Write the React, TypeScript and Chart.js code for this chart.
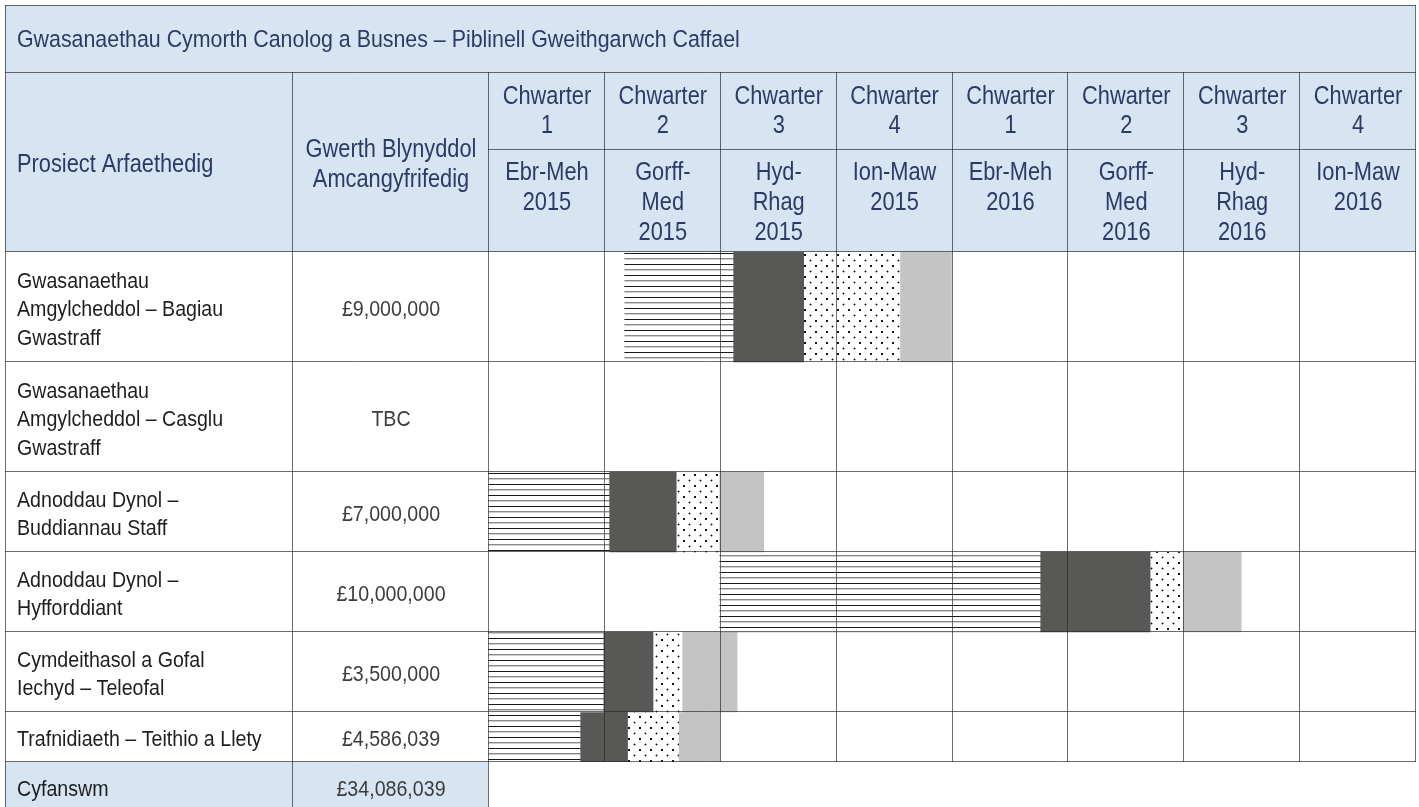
import React, { useEffect, useRef } from 'react';
import { Chart, registerables } from 'chart.js';

Chart.register(...registerables);

// ---------- data ----------
const title = 'Gwasanaethau Cymorth Canolog a Busnes – Piblinell Gweithgarwch Caffael';
const headerProject = ['Prosiect Arfaethedig'];
const headerValue = ['Gwerth Blynyddol', 'Amcangyfrifedig'];
const quarterLabels = [
  ['Chwarter', '1'], ['Chwarter', '2'], ['Chwarter', '3'], ['Chwarter', '4'],
  ['Chwarter', '1'], ['Chwarter', '2'], ['Chwarter', '3'], ['Chwarter', '4'],
];
const periodLabels = [
  ['Ebr-Meh', '2015'], ['Gorff-', 'Med', '2015'], ['Hyd-', 'Rhag', '2015'], ['Ion-Maw', '2015'],
  ['Ebr-Meh', '2016'], ['Gorff-', 'Med', '2016'], ['Hyd-', 'Rhag', '2016'], ['Ion-Maw', '2016'],
];
const projects = [
  ['Gwasanaethau', 'Amgylcheddol – Bagiau', 'Gwastraff'],
  ['Gwasanaethau', 'Amgylcheddol – Casglu', 'Gwastraff'],
  ['Adnoddau Dynol –', 'Buddiannau Staff'],
  ['Adnoddau Dynol –', 'Hyfforddiant'],
  ['Cymdeithasol a Gofal', 'Iechyd – Teleofal'],
  ['Trafnidiaeth – Teithio a Llety'],
];
const annualValues = ['£9,000,000', 'TBC', '£7,000,000', '£10,000,000', '£3,500,000', '£4,586,039'];
const totalLabel = 'Cyfanswm';
const totalValue = '£34,086,039';

// phase spans, in quarters counted from the start of Chwarter 1 2015
const stripedPhase = [[1.18, 2.12], null, [0, 1.05], [2.0, 4.77], [0, 1.0], [0, 0.8]];
const darkPhase = [[2.12, 2.73], null, [1.05, 1.63], [4.77, 5.72], [1.0, 1.43], [0.8, 1.21]];
const dottedPhase = [[2.73, 3.56], null, [1.63, 2.0], [5.72, 6.0], [1.43, 1.68], [1.21, 1.65]];
const lightPhase = [[3.56, 4.0], null, [2.0, 2.38], [6.0, 6.5], [1.68, 2.15], [1.65, 2.0]];

// ---------- layout / style ----------
const W = 1419;
const H = 807;
const X_LEFT = 5;
const X_COL1 = 292;
const X_COL2 = 488;
const X_RIGHT = 1415;
const Y_TOP = 5;
const Y_TITLE_BOTTOM = 72;
const Y_HEAD_MID = 149;
const Y_DATA_TOP = 252;
const LINE_PX = 30;
const ROW_PAD = 20;
const HEAD_BG = '#d7e4f1';
const NAVY = '#2c3b66';
const LABEL_COL = '#1e1e1e';
const VALUE_COL = '#3c3c3c';
const GRID = 'rgba(40,40,40,0.68)';

function makeStripes(): CanvasPattern {
  const c = document.createElement('canvas');
  c.width = 8;
  c.height = 11;
  const g = c.getContext('2d')!;
  g.fillStyle = '#ffffff';
  g.fillRect(0, 0, 8, 11);
  g.fillStyle = '#1a1a1a';
  g.fillRect(0, 0, 8, 1);
  g.fillStyle = '#8a8a8a';
  g.fillRect(0, 5, 8, 1);
  g.fillStyle = '#cfcfcf';
  g.fillRect(0, 6, 8, 1);
  return g.createPattern(c, 'repeat')!;
}

function makeDots(): CanvasPattern {
  const c = document.createElement('canvas');
  c.width = 11;
  c.height = 11;
  const g = c.getContext('2d')!;
  g.fillStyle = '#ffffff';
  g.fillRect(0, 0, 11, 11);
  g.fillStyle = '#151515';
  g.fillRect(1, 1, 2, 2);
  g.fillStyle = '#9a9a9a';
  g.fillRect(6, 7, 3, 1);
  g.fillRect(7, 6, 1, 3);
  g.fillStyle = '#101010';
  g.fillRect(7, 7, 1, 1);
  return g.createPattern(c, 'repeat')!;
}

export default function App() {
  const ref = useRef<HTMLCanvasElement>(null);

  useEffect(() => {
    const canvas = ref.current!;

    const probe = document.createElement('canvas').getContext('2d')!;
    probe.font = '40px "Liberation Sans Narrow", monospace';
    const w1 = probe.measureText('abcdefghijklmnop').width;
    probe.font = '40px monospace';
    const w2 = probe.measureText('abcdefghijklmnop').width;
    const narrow = Math.abs(w1 - w2) > 1;
    const FAMILY = narrow
      ? '"Liberation Sans Narrow", "Liberation Sans", Arial, sans-serif'
      : '"Liberation Sans", Arial, sans-serif';
    const SX = narrow ? 0.872 / 0.82 : 0.872;

    const rowHeights = projects.map((p) => p.length * LINE_PX + ROW_PAD);
    const bounds: number[] = [0];
    rowHeights.forEach((h) => bounds.push(bounds[bounds.length - 1] + h));
    const totalH = bounds[bounds.length - 1];
    const centers = rowHeights.map((h, i) => bounds[i] + h / 2);

    const stripes = makeStripes();
    const dots = makeDots();
    const phases = [
      { spans: stripedPhase, color: stripes as any },
      { spans: darkPhase, color: '#585856' },
      { spans: dottedPhase, color: dots as any },
      { spans: lightPhase, color: '#c4c4c4' },
    ];

    const datasets = projects.map((_, r) => {
      const data: any[] = [];
      const colors: any[] = [];
      phases.forEach((ph) => {
        const s = ph.spans[r];
        if (s) {
          data.push({ x: [s[0], s[1]], y: centers[r] });
          colors.push(ph.color);
        }
      });
      return {
        label: 'row' + r,
        data,
        backgroundColor: colors,
        borderWidth: 0,
        barThickness: rowHeights[r],
        grouped: false,
      };
    });

    const text = (
      ctx: CanvasRenderingContext2D,
      s: string,
      x: number,
      y: number,
      size: number,
      color: string,
      align: CanvasTextAlign,
    ) => {
      ctx.save();
      ctx.font = `${size}px ${FAMILY}`;
      ctx.fillStyle = color;
      ctx.textAlign = align;
      ctx.textBaseline = 'alphabetic';
      ctx.translate(x, y);
      ctx.scale(SX, 1);
      ctx.fillText(s, 0, 0);
      ctx.restore();
    };

    const tablePlugin = {
      id: 'tablePlugin',
      beforeDraw(chart: any) {
        const ctx: CanvasRenderingContext2D = chart.ctx;
        const ys = chart.scales.y;
        ctx.save();
        ctx.fillStyle = '#ffffff';
        ctx.fillRect(0, 0, W, H);
        ctx.fillStyle = HEAD_BG;
        ctx.fillRect(X_LEFT, Y_TOP, X_RIGHT - X_LEFT, Y_DATA_TOP - Y_TOP);
        const yBottom = ys.getPixelForValue(totalH);
        ctx.fillRect(X_LEFT, yBottom, X_COL2 - X_LEFT, H - yBottom);
        ctx.restore();
      },
      afterDatasetsDraw(chart: any) {
        const ctx: CanvasRenderingContext2D = chart.ctx;
        const xs = chart.scales.x;
        const ys = chart.scales.y;
        const yBottom = Math.round(ys.getPixelForValue(totalH));

        ctx.save();
        ctx.strokeStyle = GRID;
        ctx.lineWidth = 1;
        const hLine = (y: number, x0: number, x1: number) => {
          ctx.beginPath();
          ctx.moveTo(x0, y + 0.5);
          ctx.lineTo(x1 + 1, y + 0.5);
          ctx.stroke();
        };
        const vLine = (x: number, y0: number, y1: number) => {
          ctx.beginPath();
          ctx.moveTo(x + 0.5, y0);
          ctx.lineTo(x + 0.5, y1);
          ctx.stroke();
        };
        hLine(Y_TOP, X_LEFT, X_RIGHT);
        hLine(Y_TITLE_BOTTOM, X_LEFT, X_RIGHT);
        hLine(Y_HEAD_MID, X_COL2, X_RIGHT);
        bounds.forEach((b) => {
          const y = Math.round(ys.getPixelForValue(b)) - 1;
          hLine(y, X_LEFT, X_RIGHT);
        });
        vLine(X_LEFT, Y_TOP, H);
        vLine(X_COL1, Y_TITLE_BOTTOM, H);
        vLine(X_COL2, Y_TITLE_BOTTOM, H);
        for (let i = 1; i < quarterLabels.length; i++) {
          vLine(Math.round(xs.getPixelForValue(i)), Y_TITLE_BOTTOM, yBottom);
        }
        vLine(X_RIGHT, Y_TOP, yBottom);
        ctx.restore();

        // title & headers
        text(ctx, title, 17, 47, 24.5, NAVY, 'left');
        text(ctx, headerProject[0], 17, 172, 25, NAVY, 'left');
        const c2 = (X_COL1 + X_COL2) / 2;
        headerValue.forEach((s, i) => text(ctx, s, c2 + 1, 157 + i * 30, 25, NAVY, 'center'));
        quarterLabels.forEach((lines, q) => {
          const cx = (xs.getPixelForValue(q) + xs.getPixelForValue(q + 1)) / 2 + 1;
          lines.forEach((s, i) => text(ctx, s, cx, 104 + i * 29, 25, NAVY, 'center'));
          periodLabels[q].forEach((s, i) => text(ctx, s, cx, 180 + i * 30, 25, NAVY, 'center'));
        });

        // body rows
        const LH = 28.5;
        const cap = 16;
        projects.forEach((lines, r) => {
          const top = ys.getPixelForValue(bounds[r]);
          const bot = ys.getPixelForValue(bounds[r + 1]);
          const mid = (top + bot) / 2;
          const first = mid - ((lines.length - 1) * LH) / 2 + cap / 2 + 1;
          lines.forEach((s, i) => text(ctx, s, 17, first + i * LH, 22.5, LABEL_COL, 'left'));
          text(ctx, annualValues[r], c2 + 1, mid + cap / 2 + 1, 22.5, VALUE_COL, 'center');
        });
        const tMid = yBottom + 25;
        text(ctx, totalLabel, 17, tMid + cap / 2 + 1, 22.5, LABEL_COL, 'left');
        text(ctx, totalValue, c2 + 1, tMid + cap / 2 + 1, 22.5, VALUE_COL, 'center');
      },
    };

    const chart = new Chart(canvas, {
      type: 'bar',
      data: { datasets: datasets as any },
      options: {
        indexAxis: 'y',
        responsive: false,
        maintainAspectRatio: false,
        devicePixelRatio: 1,
        animation: false,
        layout: {
          padding: { left: X_COL2, right: W - X_RIGHT, top: Y_DATA_TOP, bottom: H - Y_DATA_TOP - totalH },
        },
        plugins: { legend: { display: false }, tooltip: { enabled: false } },
        scales: {
          x: { type: 'linear', min: 0, max: quarterLabels.length, display: false },
          y: { type: 'linear', min: 0, max: totalH, reverse: true, display: false, offset: false },
        },
      } as any,
      plugins: [tablePlugin],
    });

    return () => chart.destroy();
  }, []);

  return (
    <div style={{ position: 'fixed', left: 0, top: 0, width: W, height: H, background: '#ffffff' }}>
      <canvas ref={ref} width={W} height={H} style={{ display: 'block', width: W, height: H }} />
    </div>
  );
}
